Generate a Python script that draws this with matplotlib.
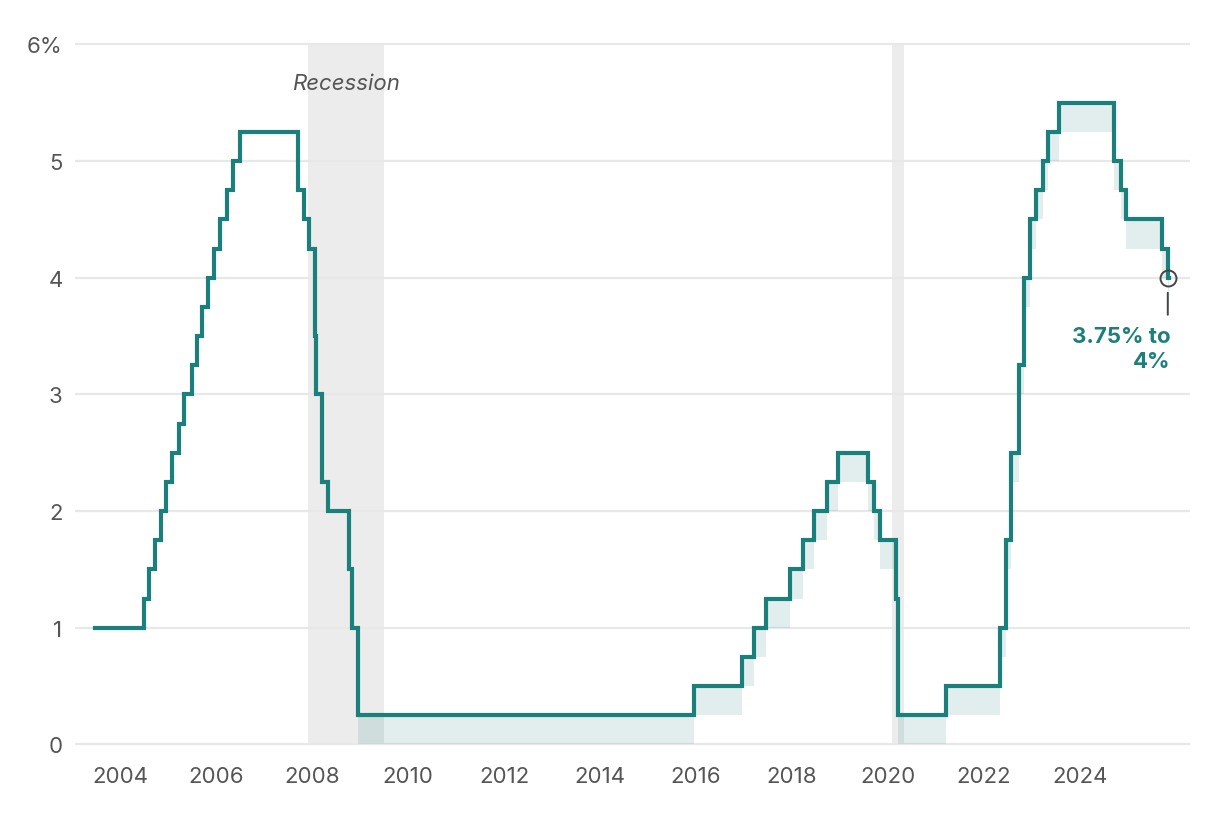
import numpy as np
import pandas as pd
import matplotlib
matplotlib.use("Agg")
from matplotlib import pyplot as plt

# federal funds target: date of change, upper bound, lower bound (nan = single target)
change_dates = ["2003-06-25", "2004-06-30", "2004-08-10", "2004-09-21", "2004-11-10",
                "2004-12-14", "2005-02-02", "2005-03-22", "2005-05-03", "2005-06-30",
                "2005-08-09", "2005-09-20", "2005-11-01", "2005-12-13", "2006-01-31",
                "2006-03-28", "2006-05-10", "2006-06-29", "2007-09-18", "2007-10-31",
                "2007-12-11", "2008-01-22", "2008-01-30", "2008-03-18", "2008-04-30",
                "2008-10-08", "2008-10-29", "2008-12-16", "2015-12-16", "2016-12-14",
                "2017-03-15", "2017-06-14", "2017-12-13", "2018-03-21", "2018-06-13",
                "2018-09-26", "2018-12-19", "2019-07-31", "2019-09-18", "2019-10-30",
                "2020-03-03", "2020-03-15", "2021-03-17", "2022-05-04", "2022-06-15",
                "2022-07-27", "2022-09-21", "2022-11-02", "2022-12-14", "2023-02-01",
                "2023-03-22", "2023-05-03", "2023-07-26", "2024-09-18", "2024-11-07",
                "2024-12-18", "2025-09-17", "2025-10-29", "2025-11-10"]
upper_bound = [1.00, 1.25, 1.50, 1.75, 2.00, 2.25, 2.50, 2.75, 3.00, 3.25,
               3.50, 3.75, 4.00, 4.25, 4.50, 4.75, 5.00, 5.25, 4.75, 4.50,
               4.25, 3.50, 3.00, 2.25, 2.00, 1.50, 1.00, 0.25, 0.50, 0.75,
               1.00, 1.25, 1.50, 1.75, 2.00, 2.25, 2.50, 2.25, 2.00, 1.75,
               1.25, 0.25, 0.50, 1.00, 1.75, 2.50, 3.25, 4.00, 4.50, 4.75,
               5.00, 5.25, 5.50, 5.00, 4.75, 4.50, 4.25, 4.00, 4.00]
nan = np.nan
lower_bound = [nan, nan, nan, nan, nan, nan, nan, nan, nan, nan,
               nan, nan, nan, nan, nan, nan, nan, nan, nan, nan,
               nan, nan, nan, nan, nan, nan, nan, 0.00, 0.25, 0.50,
               0.75, 1.00, 1.25, 1.50, 1.75, 2.00, 2.25, 2.00, 1.75, 1.50,
               1.00, 0.00, 0.25, 0.75, 1.50, 2.25, 3.00, 3.75, 4.25, 4.50,
               4.75, 5.00, 5.25, 4.75, 4.50, 4.25, 4.00, 3.75, 3.75]

recession_start = ["2007-12-01", "2020-02-01"]
recession_end = ["2009-06-30", "2020-04-30"]

latest_date = "2025-10-29"
latest_value = 4.00
latest_label = "3.75% to\n4%"

tick_years = [2004, 2006, 2008, 2010, 2012, 2014, 2016, 2018, 2020, 2022, 2024]
y_ticks = [0, 1, 2, 3, 4, 5, 6]
y_labels = ["0", "1", "2", "3", "4", "5", "6%"]

TEAL = "#1b7f7b"
TEXT = "#555555"
plt.rcParams["font.family"] = ["Inter", "DejaVu Sans"]

dates = pd.to_datetime(change_dates)
upper = np.array(upper_bound)
lower = np.array(lower_bound)

fig = plt.figure(figsize=(12.2, 8.2), dpi=100)
ax = fig.add_axes([75 / 1220, 0.0838, 1115 / 1220, 0.8679])

# recession shading
for s, e in zip(recession_start, recession_end):
    ax.axvspan(pd.Timestamp(s), pd.Timestamp(e), ymin=0.05 / 6.1, ymax=6.05 / 6.1,
               color="#ececec", lw=0, zorder=0)
rs, re_ = pd.Timestamp(recession_start[0]), pd.Timestamp(recession_end[0])
ax.text(rs + (re_ - rs) / 2, 5.67, "Recession", style="italic", ha="center",
        va="center", fontsize=16, color=TEXT, zorder=5)

# gridlines
for t in y_ticks:
    ax.axhline(t, color="#e8e8e8", lw=1.6, zorder=1)

# target range band and upper bound line
ax.fill_between(dates, lower, upper, step="post", color=TEAL, alpha=0.13,
                lw=0, zorder=2)
ax.step(dates, upper, where="post", color=TEAL, lw=3, zorder=3,
        solid_joinstyle="miter")

# latest value annotation
ld = pd.Timestamp(latest_date)
ax.plot([ld], [latest_value], marker="o", ms=11.5, mfc="none", mec="#444444",
        mew=1.4, zorder=4)
ax.annotate("", xy=(ld, latest_value), xytext=(0, -37), textcoords="offset pixels",
            arrowprops=dict(arrowstyle="-", color="#444444", lw=1.4,
                            shrinkA=0, shrinkB=15 * 0.72))
ax.annotate(latest_label, xy=(ld, latest_value), xytext=(3, -48),
            textcoords="offset pixels", ha="right", va="top",
            fontsize=16, fontweight="bold", color=TEAL, linespacing=1.3)

ax.set_ylim(-0.05, 6.05)
ax.set_xlim(pd.Timestamp("2003-01-24"), pd.Timestamp("2026-04-16"))
ax.set_yticks(y_ticks)
ax.set_yticklabels(y_labels)
ax.set_xticks([pd.Timestamp(f"{y}-01-01") for y in tick_years])
ax.set_xticklabels([str(y) for y in tick_years])
ax.tick_params(axis="both", length=0, labelsize=16, labelcolor=TEXT)
ax.tick_params(axis="y", pad=9)
ax.tick_params(axis="x", pad=11)
for sp in ax.spines.values():
    sp.set_visible(False)

fig.savefig("out.png", dpi=100)
